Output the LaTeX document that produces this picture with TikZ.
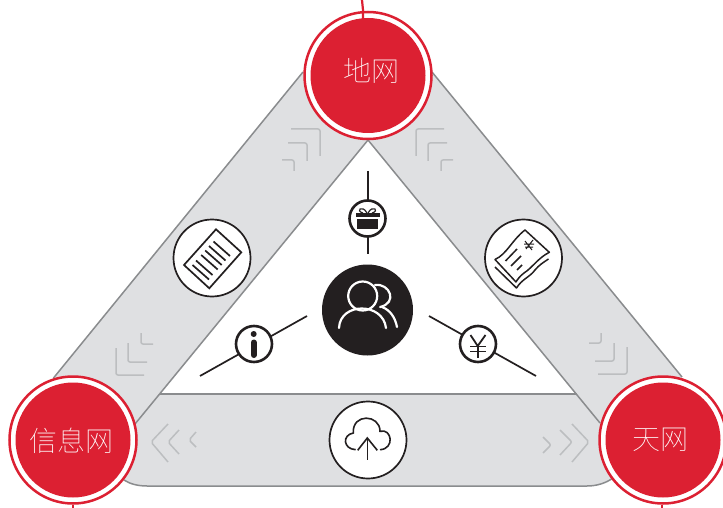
\documentclass[tikz,border=0pt]{standalone}
\usepackage{fontspec}
\newfontfamily\cjk{Noto Sans CJK SC Thin}
\definecolor{netred}{HTML}{DC2032}
\definecolor{bandgray}{HTML}{DFE0E2}
\definecolor{edgegray}{HTML}{8A8C8E}
\definecolor{chevgray}{HTML}{BCBEC0}
\definecolor{iconblack}{HTML}{231F20}
\tikzset{
  bandedge/.style={draw=edgegray,line width=1.5pt},
  chevline/.style={draw=chevgray,line width=1.5pt,rounded corners=2pt},
  iconline/.style={draw=iconblack,line width=1.7pt},
  stubline/.style={draw=netred,line width=2.2pt},
  bigring/.style={circle,draw=iconblack,fill=white,line width=1.7pt,inner sep=0pt,minimum size=77pt},
  smallring/.style={circle,draw=iconblack,fill=white,line width=2.6pt,inner sep=0pt,minimum size=36pt}
}
\newcommand{\netnode}[4]{
    % Red Network Circle
    % \netnode{name}{position}{text position}{text}
    \node (#1) [circle,fill=netred,inner sep=0pt,minimum size=115pt] at #2 {};
    \node (#1Text) [inner sep=0pt,text=white,
        font=\cjk\fontsize{28}{28}\selectfont] at #3 {#4};
}
\newcommand{\netring}[2]{
    % Outer Ring of a Network Circle
    % \netring{name}{position}
    \node (#1Ring) [circle,draw=netred,fill=white,line width=2.5pt,inner sep=0pt,
        minimum size=127pt] at #2 {};
}
\newcommand{\chevron}[3]{
    % Light Direction Mark
    % \chevron{begin}{corner}{end}
    \draw[chevline] #1 -- #2 -- #3;
}
\begin{document}
\begin{tikzpicture}[x=1pt,y=-1pt]
  \useasboundingbox (0,0) rectangle (723,508);

  % bands
  \fill[bandgray] (303,72) -- (53.5,378) -- (73,440) -- (135,424) -- (368,140) -- cycle;
  \fill[bandgray] (432,72) -- (682,377) -- (663,440) -- (600,423) -- (368,140) -- cycle;
  \fill[bandgray] (160,394) -- (577,394) -- (663,440) -- (613,478)
      .. controls (606,483) and (597,486) .. (587,486) -- (147,486)
      .. controls (138,486) and (130,484) .. (124,480) -- (73,440) -- cycle;
  \draw[bandedge] (303,72) -- (53.5,378);
  \draw[bandedge] (432,72) -- (682,377);
  \draw[bandedge] (135,424) -- (368,140) -- (600,423);
  \draw[bandedge] (160,394) -- (577,394);
  \draw[bandedge] (124,480) .. controls (130,484) and (138,486) .. (147,486)
      -- (587,486) .. controls (597,486) and (606,483) .. (613,478);

  % marks on the bands
  \chevron{(291,129)}{(320,129)}{(320,156)}
  \chevron{(288,143)}{(307,143)}{(307,161)}
  \chevron{(282,160)}{(294,160)}{(294,171)}
  \chevron{(444,129)}{(416,129)}{(416,156)}
  \chevron{(447,143)}{(428,143)}{(428,161)}
  \chevron{(453,160)}{(441,160)}{(441,171)}
  \chevron{(116,348)}{(116,375)}{(144,375)}
  \chevron{(128,343)}{(128,362)}{(147,362)}
  \chevron{(141,333)}{(141,344)}{(153,344)}
  \chevron{(627,347)}{(627,374)}{(598,374)}
  \chevron{(614,343)}{(614,361)}{(595,361)}
  \chevron{(601,333)}{(601,343)}{(589,343)}
  \chevron{(168,424)}{(151,442)}{(168,462)}
  \chevron{(179,430)}{(168,442)}{(179,454)}
  \chevron{(196,432)}{(189,440)}{(196,447)}
  \chevron{(543,437)}{(551,445)}{(543,453)}
  \chevron{(560,430)}{(572,442)}{(560,455)}
  \chevron{(572,424)}{(589,442)}{(572,462)}

  % network circles
  \netring{earth}{(368,75.5)}
  \netring{info}{(73,440)}
  \netring{sky}{(663,440)}
  \coordinate (earthTail) at (362,0);
  \coordinate (infoTail) at (73,508);
  \coordinate (skyTail) at (662,508);
  \draw[stubline] (earthTail) .. controls (363,5) .. (363,10) -- (363,30);
  \draw[stubline] (infoTail) -- (infoRing.south);
  \draw[stubline] (skyTail) -- (skyTail |- skyRing.south);
  \netnode{earth}{(368,75.5)}{(371,71)}{地网}
  \netnode{info}{(73,440)}{(71,441)}{信息网}
  \netnode{sky}{(663,440)}{(660.5,440)}{天网}

  % centre and the lines around it
  \node (users) [circle,fill=iconblack,inner sep=0pt,minimum size=91pt] at (367.5,310) {};
  \coordinate (giftTop) at (368,171);
  \coordinate (giftEnd) at (368,254);
  \coordinate (iNear) at (307,316);
  \coordinate (iFar) at (200,376);
  \coordinate (yenNear) at (429,316);
  \coordinate (yenFar) at (536,376);
  \draw[iconline] (giftTop) -- (giftEnd);
  \draw[iconline] (iNear) -- (iFar);
  \draw[iconline] (yenNear) -- (yenFar);

  % people
  \draw[white,line width=2.2pt] (362.7,296) circle (14.5);
  \draw[white,line width=2.2pt,line cap=round] (339,328) .. controls (340,302) and (383,302) .. (386,328);
  \draw[white,line width=2.2pt,line cap=round] (375,285) .. controls (390,283) and (398,303) .. (380,307);
  \draw[white,line width=2.2pt,line cap=round] (382,307) .. controls (390,310) and (395,317) .. (397,327);

  % small rings
  \node (gift) [smallring] at (367.5,218.5) {};
  \node (iMark) [smallring] at (254,344) {};
  \node (yen) [smallring] at (478,344) {};
  \fill[iconblack] (355.7,213.3) rectangle (380,216.7);
  \fill[iconblack] (357.3,219) rectangle (377.7,229.3);
  \draw[iconblack,line width=1.2pt] (367,213) .. controls (362,204) and (355,211) .. (363,213);
  \draw[iconblack,line width=1.2pt] (368,213) .. controls (373,204) and (380,211) .. (372,213);
  \fill[iconblack] (253.7,334) circle (3);
  \draw[iconblack,line width=6pt,line cap=round] (253.7,342.5) -- (253.7,355);
  \draw[iconblack,line width=1.8pt] (470.5,335) -- (477.7,346) -- (485.5,335);
  \draw[iconblack,line width=1.8pt] (477.7,346) -- (477.7,358);
  \draw[iconblack,line width=1.8pt] (470,346.5) -- (486,346.5) (470,351.5) -- (486,351.5);

  % big rings
  \node (paper) [bigring] at (212,258) {};
  \node (ticket) [bigring] at (523.5,258) {};
  \node (cloud) [bigring] at (368,440) {};

  % paper
  \draw[iconblack,line width=1.7pt,line join=miter] (216,229.3) -- (241.3,252.3) -- (209.3,288.3) -- (184,265) -- cycle;
  \foreach \dx/\dy in {0/0,-4.5/4.5,-8.3/9,-12.3/13.5,-17.5/19,-21/23.5}
    \draw[iconblack,line width=1.7pt] (213.5+\dx,241.5+\dy) -- (230+\dx,256+\dy);

  % ticket
  \draw[iconblack,line width=1.5pt,line join=round] (495,259.5)
      .. controls (507,254) and (512,240) .. (525,230) -- (549.3,252.3)
      .. controls (538,258) and (532,268) .. (524,273)
      .. controls (520,276) and (517,280) .. (516,282) -- cycle;
  \draw[iconblack,line width=1.5pt,line join=round] (495,267) -- (516.5,288)
      .. controls (522,279) and (530,277) .. (535,270)
      .. controls (539,265) and (544,262) .. (548.5,259);
  \draw[iconblack,line width=1.5pt] (505.5,261) -- (517,249)
      (511,266) -- (521,256) (517,270) -- (522,265);
  \draw[iconblack,line width=1pt] (525,241) -- (532,250) (533,240) -- (526,249) (524,244) -- (534,244) (525,247) -- (533,247);

  % cloud
  \draw[iconblack,line width=1.6pt] (355.7,449.7)
      .. controls (343,449) and (342,435) .. (353.3,433)
      .. controls (352,413) and (380,414) .. (380,431.3)
      .. controls (392,428) and (395,449) .. (380,449.7);
  \draw[iconblack,line width=1.6pt] (367.3,459.7) -- (367.3,438);
  \draw[iconblack,line width=1.6pt] (357.7,450.3) -- (367.3,438) -- (377.3,450.3);
\end{tikzpicture}
\end{document}
